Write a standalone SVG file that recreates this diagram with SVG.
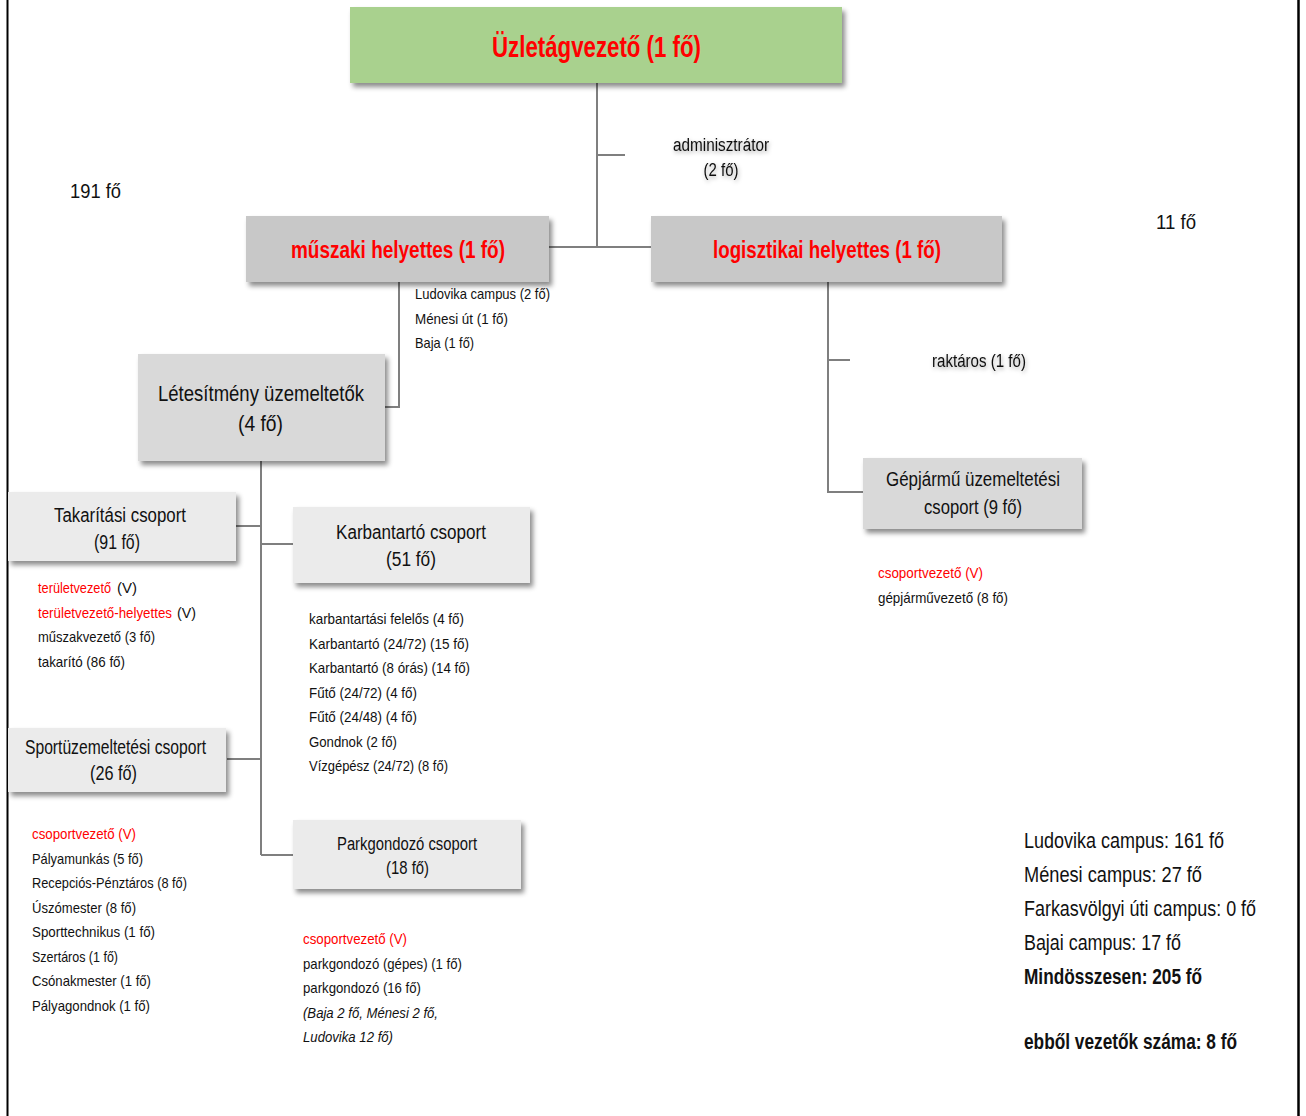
<svg xmlns="http://www.w3.org/2000/svg" width="1306" height="1116" viewBox="0 0 1306 1116">
<defs>
<filter id="sh" x="-10%" y="-20%" width="130%" height="150%">
<feDropShadow dx="3" dy="4" stdDeviation="2.5" flood-color="#000" flood-opacity="0.45"/>
</filter>
<filter id="tsh" x="-20%" y="-50%" width="140%" height="200%">
<feDropShadow dx="1" dy="2" stdDeviation="2" flood-color="#000" flood-opacity="0.35"/>
</filter>
<style>
text{font-family:"Liberation Sans",Arial,sans-serif;fill:#111}
.red{fill:#ff0000}
.b{font-weight:bold}
.t28{font-size:29px}
.t24{font-size:24px}
.t22{font-size:22px}
.t20{font-size:20px}
.t18{font-size:18px}
.t15{font-size:15px}
.mid{text-anchor:middle}
.it{font-style:italic}
.conn line,.conn polyline{stroke:#7f7f7f;stroke-width:2;fill:none}
.box{filter:url(#sh)}
</style>
</defs>
<line x1="7.5" y1="0" x2="7.5" y2="1116" stroke="#000" stroke-width="2"/>
<line x1="1298.5" y1="0" x2="1298.5" y2="1116" stroke="#000" stroke-width="2.5"/>

<g id="connectors" class="conn">
<line x1="597" y1="83" x2="597" y2="248"/>
<line x1="597" y1="155" x2="625" y2="155"/>
<line x1="549" y1="247" x2="651" y2="247"/>
<polyline points="399,282 399,407 385,407"/>
<polyline points="828,282 828,492 863,492"/>
<line x1="828" y1="360" x2="850" y2="360"/>
<line x1="261" y1="461" x2="261" y2="855"/>
<line x1="236" y1="526" x2="261" y2="526"/>
<line x1="261" y1="544" x2="293" y2="544"/>
<line x1="227" y1="759" x2="261" y2="759"/>
<line x1="261" y1="855" x2="293" y2="855"/>
</g>

<g id="uzletagvezeto">
<rect class="box" x="350" y="7" width="492" height="76" fill="#a9d18e"/>
<text class="t28 b red" x="492" y="57" textLength="209" lengthAdjust="spacingAndGlyphs">Üzletágvezető (1 fő)</text>
</g>

<g id="adminisztrator">
<text class="t18 mid" x="721" y="151" textLength="96" lengthAdjust="spacingAndGlyphs" filter="url(#tsh)">adminisztrátor</text>
<text class="t18 mid" x="721" y="176" textLength="35" lengthAdjust="spacingAndGlyphs" filter="url(#tsh)">(2 fő)</text>
</g>

<g id="muszaki">
<rect class="box" x="246" y="216" width="303" height="66" fill="#c8c8c8"/>
<text class="t24 b red" x="291" y="258" textLength="214" lengthAdjust="spacingAndGlyphs">műszaki helyettes (1 fő)</text>
</g>

<g id="logisztikai">
<rect class="box" x="651" y="216" width="351" height="66" fill="#c8c8c8"/>
<text class="t24 b red" x="713" y="258" textLength="228" lengthAdjust="spacingAndGlyphs">logisztikai helyettes (1 fő)</text>
</g>

<g id="osszes-bal">
<text class="t20" x="70" y="198" textLength="51" lengthAdjust="spacingAndGlyphs">191 fő</text>
</g>
<g id="osszes-jobb">
<text class="t20" x="1156" y="229" textLength="40" lengthAdjust="spacingAndGlyphs">11 fő</text>
</g>

<g id="muszaki-helyszinek">
<text class="t15" x="415" y="299" textLength="135" lengthAdjust="spacingAndGlyphs">Ludovika campus (2 fő)</text>
<text class="t15" x="415" y="324" textLength="93" lengthAdjust="spacingAndGlyphs">Ménesi út (1 fő)</text>
<text class="t15" x="415" y="348" textLength="59" lengthAdjust="spacingAndGlyphs">Baja (1 fő)</text>
</g>

<g id="letesitmeny">
<rect class="box" x="138" y="354" width="247" height="107" fill="#d9d9d9"/>
<text class="t22" x="158" y="401" textLength="206" lengthAdjust="spacingAndGlyphs">Létesítmény üzemeltetők</text>
<text class="t22" x="238" y="431" textLength="45" lengthAdjust="spacingAndGlyphs">(4 fő)</text>
</g>

<g id="raktaros">
<text class="t18" x="932" y="367" textLength="94" lengthAdjust="spacingAndGlyphs" filter="url(#tsh)">raktáros (1 fő)</text>
</g>

<g id="gepjarmu">
<rect class="box" x="863" y="458" width="219" height="71" fill="#d9d9d9"/>
<text class="t20" x="886" y="486" textLength="174" lengthAdjust="spacingAndGlyphs">Gépjármű üzemeltetési</text>
<text class="t20" x="924" y="514" textLength="98" lengthAdjust="spacingAndGlyphs">csoport (9 fő)</text>
</g>
<g id="gepjarmu-lista">
<text class="t15 red" x="878" y="578" textLength="105" lengthAdjust="spacingAndGlyphs">csoportvezető (V)</text>
<text class="t15" x="878" y="603" textLength="130" lengthAdjust="spacingAndGlyphs">gépjárművezető (8 fő)</text>
</g>

<g id="takaritasi">
<rect class="box" x="8" y="492" width="228" height="69" fill="#ebebeb"/>
<text class="t20" x="54" y="522" textLength="132" lengthAdjust="spacingAndGlyphs">Takarítási csoport</text>
<text class="t20" x="94" y="549" textLength="46" lengthAdjust="spacingAndGlyphs">(91 fő)</text>
</g>
<g id="takaritasi-lista">
<text class="t15 red" transform="translate(38 593) scale(0.84 1)" textLength="87" lengthAdjust="spacingAndGlyphs">területvezető</text>
<text class="t15" x="117" y="593" textLength="20" lengthAdjust="spacingAndGlyphs">(V)</text>
<text class="t15 red" transform="translate(38 618) scale(0.84 1)" textLength="159.5" lengthAdjust="spacingAndGlyphs">területvezető-helyettes</text>
<text class="t15" x="177" y="618" textLength="19" lengthAdjust="spacingAndGlyphs">(V)</text>
<text class="t15" x="38" y="642" textLength="117" lengthAdjust="spacingAndGlyphs">műszakvezető (3 fő)</text>
<text class="t15" x="38" y="667" textLength="87" lengthAdjust="spacingAndGlyphs">takarító (86 fő)</text>
</g>

<g id="karbantarto">
<rect class="box" x="293" y="507" width="237" height="76" fill="#ebebeb"/>
<text class="t20" x="336" y="539" textLength="150" lengthAdjust="spacingAndGlyphs">Karbantartó csoport</text>
<text class="t20" x="386" y="566" textLength="50" lengthAdjust="spacingAndGlyphs">(51 fő)</text>
</g>
<g id="karbantarto-lista">
<text class="t15" x="309" y="624" textLength="155" lengthAdjust="spacingAndGlyphs">karbantartási felelős (4 fő)</text>
<text class="t15" x="309" y="649" textLength="160" lengthAdjust="spacingAndGlyphs">Karbantartó (24/72) (15 fő)</text>
<text class="t15" x="309" y="673" textLength="161" lengthAdjust="spacingAndGlyphs">Karbantartó (8 órás) (14 fő)</text>
<text class="t15" x="309" y="698" textLength="108" lengthAdjust="spacingAndGlyphs">Fűtő (24/72) (4 fő)</text>
<text class="t15" x="309" y="722" textLength="108" lengthAdjust="spacingAndGlyphs">Fűtő (24/48) (4 fő)</text>
<text class="t15" x="309" y="747" textLength="88" lengthAdjust="spacingAndGlyphs">Gondnok (2 fő)</text>
<text class="t15" x="309" y="771" textLength="139" lengthAdjust="spacingAndGlyphs">Vízgépész (24/72) (8 fő)</text>
</g>

<g id="sportuzemeltetesi">
<rect class="box" x="8" y="728" width="218" height="64" fill="#ebebeb"/>
<text class="t20" x="25" y="754" textLength="181" lengthAdjust="spacingAndGlyphs">Sportüzemeltetési csoport</text>
<text class="t20" x="90" y="780" textLength="47" lengthAdjust="spacingAndGlyphs">(26 fő)</text>
</g>
<g id="sport-lista">
<text class="t15 red" x="32" y="839" textLength="104" lengthAdjust="spacingAndGlyphs">csoportvezető (V)</text>
<text class="t15" x="32" y="864" textLength="111" lengthAdjust="spacingAndGlyphs">Pályamunkás (5 fő)</text>
<text class="t15" x="32" y="888" textLength="155" lengthAdjust="spacingAndGlyphs">Recepciós-Pénztáros (8 fő)</text>
<text class="t15" x="32" y="913" textLength="104" lengthAdjust="spacingAndGlyphs">Úszómester (8 fő)</text>
<text class="t15" x="32" y="937" textLength="123" lengthAdjust="spacingAndGlyphs">Sporttechnikus (1 fő)</text>
<text class="t15" x="32" y="962" textLength="86" lengthAdjust="spacingAndGlyphs">Szertáros (1 fő)</text>
<text class="t15" x="32" y="986" textLength="119" lengthAdjust="spacingAndGlyphs">Csónakmester (1 fő)</text>
<text class="t15" x="32" y="1011" textLength="118" lengthAdjust="spacingAndGlyphs">Pályagondnok (1 fő)</text>
</g>

<g id="parkgondozo">
<rect class="box" x="293" y="820" width="228" height="69" fill="#ebebeb"/>
<text class="t18" x="337" y="850" textLength="140" lengthAdjust="spacingAndGlyphs">Parkgondozó csoport</text>
<text class="t18" x="386" y="874" textLength="43" lengthAdjust="spacingAndGlyphs">(18 fő)</text>
</g>
<g id="park-lista">
<text class="t15 red" x="303" y="944" textLength="104" lengthAdjust="spacingAndGlyphs">csoportvezető (V)</text>
<text class="t15" x="303" y="969" textLength="159" lengthAdjust="spacingAndGlyphs">parkgondozó (gépes) (1 fő)</text>
<text class="t15" x="303" y="993" textLength="118" lengthAdjust="spacingAndGlyphs">parkgondozó (16 fő)</text>
<text class="t15 it" x="303" y="1018" textLength="135" lengthAdjust="spacingAndGlyphs">(Baja 2 fő, Ménesi 2 fő,</text>
<text class="t15 it" x="303" y="1042" textLength="90" lengthAdjust="spacingAndGlyphs">Ludovika 12 fő)</text>
</g>

<g id="osszesites">
<text class="t22" x="1024" y="848" textLength="200" lengthAdjust="spacingAndGlyphs">Ludovika campus: 161 fő</text>
<text class="t22" x="1024" y="882" textLength="178" lengthAdjust="spacingAndGlyphs">Ménesi campus: 27 fő</text>
<text class="t22" transform="translate(1024 916) scale(0.82 1)" x="0" y="0" textLength="283" lengthAdjust="spacingAndGlyphs">Farkasvölgyi úti campus: 0 fő</text>
<text class="t22" x="1024" y="950" textLength="157" lengthAdjust="spacingAndGlyphs">Bajai campus: 17 fő</text>
<text class="t22 b" x="1024" y="984" textLength="178" lengthAdjust="spacingAndGlyphs">Mindösszesen: 205 fő</text>
<text class="t22 b" x="1024" y="1049" textLength="213" lengthAdjust="spacingAndGlyphs">ebből vezetők száma: 8 fő</text>
</g>
</svg>
